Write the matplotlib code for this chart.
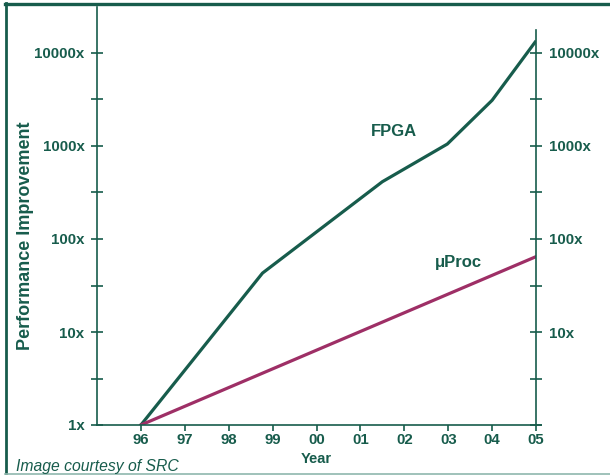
import matplotlib
matplotlib.use('Agg')  # no GUI
import matplotlib.pyplot as plt
from matplotlib.lines import Line2D

# Data (years as 96..105, performance as factor)
years = [96, 97, 98, 99, 100, 101, 102, 103, 104, 105]
year_labels = ['96', '97', '98', '99', '00', '01', '02', '03', '04', '05']

fpga_x = [96, 98.77, 101.5, 102.98, 104.0, 104.98]
fpga_y = [1, 43, 413, 1050, 3100, 13100]

uproc_x = [96, 104.98]
uproc_y = [1, 64]

decade_ticks = [1, 10, 100, 1000, 10000]
decade_labels = ['1x', '10x', '100x', '1000x', '10000x']

green = '#175c4c'
magenta = '#9e2f66'
light = '#8fb8ae'

plt.rcParams['font.family'] = ['Liberation Sans', 'DejaVu Sans']

W, H = 610, 475
fig = plt.figure(figsize=(W / 100, H / 100), dpi=100)

# axes box in pixels: left 97, right 536, top 7, bottom 425
ax = fig.add_axes([97 / W, 1 - 425 / H, (536 - 97) / W, (425 - 7) / H])
ax.set_yscale('log')
ax.set_xlim(95, 105)
ax.set_ylim(1, 10 ** (418 / 93))

# lines
ax.plot(fpga_x, fpga_y, color=green, lw=2.3, solid_joinstyle='round')
ax.plot(uproc_x, uproc_y, color=magenta, lw=2.3)

# spines
for s in ['left', 'right', 'bottom']:
    ax.spines[s].set_color(green)
    ax.spines[s].set_linewidth(1.2)
ax.spines['top'].set_visible(False)
ax.spines['right'].set_bounds(1, 10 ** ((425 - 30) / 93))
ax.spines['bottom'].set_bounds(95, 105.12)

# y ticks every half decade, labels only on decades
ax.yaxis.set_major_locator(plt.FixedLocator(decade_ticks))
ax.yaxis.set_minor_locator(plt.FixedLocator([10 ** (k + 0.5) for k in range(4)]))
ax.set_yticklabels(decade_labels)
ax.tick_params(axis='y', which='both', direction='inout', length=8, width=1.2,
               color=green, left=True, right=True, labelleft=True, labelright=True)
ax.tick_params(axis='y', which='major', labelsize=10.8, labelcolor=green, pad=5)
for t in ax.yaxis.get_major_ticks():
    t.label1.set_fontweight('bold')
    t.label2.set_fontweight('bold')
    # right side has no 1x label
    if t.label2.get_text() == '1x':
        t.label2.set_visible(False)

# x ticks
ax.set_xticks(years)
ax.set_xticklabels(year_labels, fontsize=10.8, fontweight='bold', color=green)
ax.tick_params(axis='x', direction='out', length=4.5, width=1.2, color=green, pad=1.5)

ax.set_xlabel('Year', fontsize=10.5, fontweight='bold', color=green, labelpad=3.5)
ax.set_ylabel('Performance Improvement', fontsize=13, fontweight='bold', color=green,
              va='center')
ax.yaxis.set_label_coords((26 - 97) / (536 - 97), (425 - 236) / (425 - 7))

# series names
ax.text(101.77, 10 ** ((425 - 132) / 93), 'FPGA', fontsize=12, fontweight='bold',
        color=green, ha='center', va='center')
ax.text(103.24, 10 ** ((425 - 263) / 93), 'μProc', fontsize=12, fontweight='bold',
        color=green, ha='center', va='center')

# credit text
fig.text(16 / W, 1 - 466 / H, 'Image courtesy of SRC', fontsize=11.3, style='italic',
         color=green, ha='left', va='center')

# frame around the picture
def px_line(xs, ys, **kw):
    fig.add_artist(Line2D([x / W for x in xs], [1 - y / H for y in ys],
                          transform=fig.transFigure, **kw))

px_line([5, 610], [4.3, 4.3], color=green, lw=2.4)
px_line([6.2, 6.2], [3, 473], color=green, lw=2.0)
px_line([5, 610], [474, 474], color=light, lw=1.2)

fig.savefig('out.png', dpi=100)
